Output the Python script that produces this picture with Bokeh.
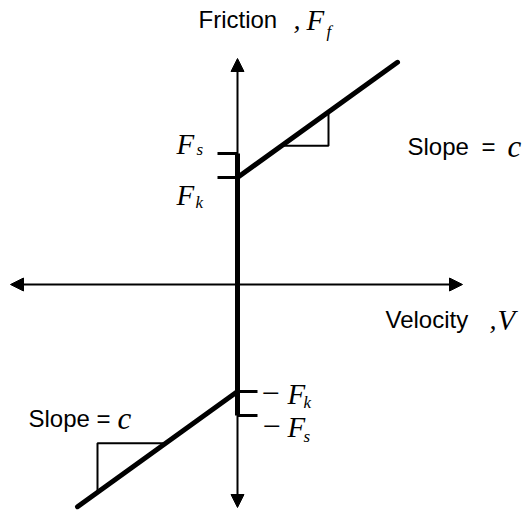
from bokeh.plotting import figure
from bokeh.models import Range1d, Arrow, NormalHead
from bokeh.core.properties import value
from bokeh.embed import file_html
from bokeh.resources import INLINE

# ---- friction model (diagram units) ----
Fs = 1.31          # static friction level
Fk = 1.07          # kinetic friction level
c = 0.72           # viscous slope
V_max = 1.60       # extent of the sloped branch
V_axis = [-2.27, 2.25]   # velocity axis extent
F_axis = [-2.23, 2.26]   # friction axis extent
tick_len = 0.20
tri_upper = [0.44, 0.91]   # velocity span of the slope triangle (positive branch)
tri_lower = [-1.40, -0.72] # velocity span of the slope triangle (negative branch)

PX = 100.0  # pixels per unit (for label offsets)
SHIFT = -9  # baseline correction for SVG text

p = figure(width=522, height=515, output_backend="svg", toolbar_location=None,
           x_range=Range1d(-2.37, 2.85), y_range=Range1d(-2.31, 2.84),
           min_border=0, outline_line_color=None)
p.axis.visible = False
p.grid.visible = False
p.background_fill_color = "white"

# axes with arrows
head = dict(size=13, fill_color="black", line_color="black")
p.add_layout(Arrow(x_start=V_axis[0], y_start=0, x_end=V_axis[1], y_end=0,
                   line_width=2, line_color="black",
                   start=NormalHead(**head), end=NormalHead(**head)))
p.add_layout(Arrow(x_start=0, y_start=F_axis[0], x_end=0, y_end=F_axis[1],
                   line_width=2, line_color="black",
                   start=NormalHead(**head), end=NormalHead(**head)))

# thick friction law
p.line([0, 0], [-Fs, Fs], line_width=5, line_color="black")
p.line([0, V_max], [Fk, Fk + c * V_max], line_width=5, line_color="black", line_cap="round")
p.line([0, -V_max], [-Fk, -Fk - c * V_max], line_width=5, line_color="black", line_cap="round")

# level ticks
p.line([-tick_len, 0], [Fs, Fs], line_width=3, line_color="black")
p.line([-tick_len, 0], [Fk, Fk], line_width=3, line_color="black")
p.line([0, tick_len], [-Fk, -Fk], line_width=3, line_color="black")
p.line([0, tick_len], [-Fs, -Fs], line_width=3, line_color="black")

# slope triangles
a, b = tri_upper
p.line([a, b, b], [Fk + c * a, Fk + c * a, Fk + c * b], line_width=2, line_color="black")
a, b = tri_lower
p.line([a, a, b], [-Fk + c * a, -Fk + c * b, -Fk + c * b], line_width=2, line_color="black")

def at(x0, y0, dx, dy):
    return x0 + dx / PX, y0 - (dy + SHIFT) / PX

sans = value("Liberation Sans")
serif = value("Liberation Serif")

def txt(s, pos, font, size, style="normal"):
    p.text(x=[pos[0]], y=[pos[1]], text=[s], text_font=font, text_font_size=size,
           text_font_style=style, text_baseline="alphabetic", text_align="left",
           text_color="black")

top = F_axis[1]
right = V_axis[1]
BIG = "29px"
SUB = "17px"
SANS = "24px"
# vertical axis title
txt("Friction", at(0, top, -39, -30), sans, SANS)
txt(",", at(0, top, 56, -30), serif, "28px", "italic")
txt("F", at(0, top, 69, -30), serif, BIG, "italic")
txt("f", at(0, top, 89, -18), serif, SUB, "italic")
# horizontal axis title
txt("Velocity", at(right, 0, -77, 44), sans, SANS)
txt(",", at(right, 0, 27, 44), serif, "28px", "italic")
txt("V", at(right, 0, 35, 44), serif, BIG, "italic")
# level labels
txt("F", at(0, Fs, -61, -1), serif, BIG, "italic")
txt("s", at(0, Fs, -41, 5), serif, SUB, "italic")
txt("F", at(0, Fk, -61, 26), serif, BIG, "italic")
txt("k", at(0, Fk, -42, 34), serif, SUB, "italic")
txt("\u2212", at(0, -Fk, 24, 11), serif, "32px")
txt("F", at(0, -Fk, 50, 11), serif, BIG, "italic")
txt("k", at(0, -Fk, 66, 20), serif, SUB, "italic")
txt("\u2212", at(0, -Fs, 25, 20), serif, "32px")
txt("F", at(0, -Fs, 50, 20), serif, BIG, "italic")
txt("s", at(0, -Fs, 66, 30), serif, SUB, "italic")
# slope labels
txt("Slope", at(V_max, Fk + c * V_max, 10, 93), sans, SANS)
txt("=", at(V_max, Fk + c * V_max, 84, 93), sans, SANS)
txt("c", at(V_max, Fk + c * V_max, 110, 93), serif, "31px", "italic")
txt("Slope", at(-V_max, -Fk - c * V_max, -49, -79), sans, SANS)
txt("=", at(-V_max, -Fk - c * V_max, 19, -79), sans, SANS)
txt("c", at(-V_max, -Fk - c * V_max, 40, -79), serif, "31px", "italic")

open("out.html", "w").write(file_html(p, INLINE))
